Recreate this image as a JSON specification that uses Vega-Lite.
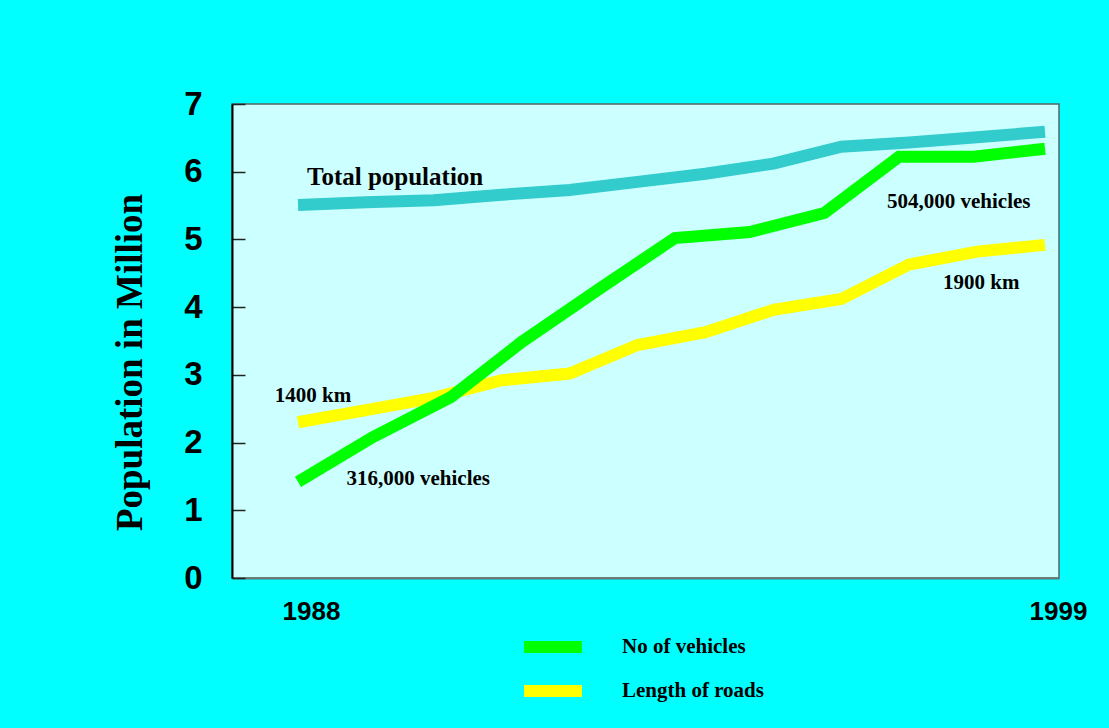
{
  "$schema": "https://vega.github.io/schema/vega-lite/v6.json",
  "width": 827,
  "height": 474,
  "autosize": {"type": "none"},
  "padding": {"left": 232, "top": 104, "right": 50, "bottom": 150},
  "background": "#00FFFF",
  "config": {
    "view": {"fill": "#CCFFFF", "stroke": "#556666", "strokeWidth": 1.5},
    "axis": {"grid": false}
  },
  "layer": [
    {
      "data": {
        "values": [
          {"series": "Total population", "year": 1988, "value": 5.51},
          {"series": "Total population", "year": 1989, "value": 5.55},
          {"series": "Total population", "year": 1990, "value": 5.58},
          {"series": "Total population", "year": 1991, "value": 5.66},
          {"series": "Total population", "year": 1992, "value": 5.73},
          {"series": "Total population", "year": 1993, "value": 5.85},
          {"series": "Total population", "year": 1994, "value": 5.97},
          {"series": "Total population", "year": 1995, "value": 6.12},
          {"series": "Total population", "year": 1996, "value": 6.37},
          {"series": "Total population", "year": 1997, "value": 6.43},
          {"series": "Total population", "year": 1998, "value": 6.51},
          {"series": "Total population", "year": 1999, "value": 6.59},
          {"series": "Length of roads", "year": 1988, "value": 2.30},
          {"series": "Length of roads", "year": 1989, "value": 2.48},
          {"series": "Length of roads", "year": 1990, "value": 2.66},
          {"series": "Length of roads", "year": 1991, "value": 2.92},
          {"series": "Length of roads", "year": 1992, "value": 3.02},
          {"series": "Length of roads", "year": 1993, "value": 3.44},
          {"series": "Length of roads", "year": 1994, "value": 3.63},
          {"series": "Length of roads", "year": 1995, "value": 3.96},
          {"series": "Length of roads", "year": 1996, "value": 4.12},
          {"series": "Length of roads", "year": 1997, "value": 4.63},
          {"series": "Length of roads", "year": 1998, "value": 4.82},
          {"series": "Length of roads", "year": 1999, "value": 4.92},
          {"series": "No of vehicles", "year": 1988, "value": 1.42},
          {"series": "No of vehicles", "year": 1989.1, "value": 2.08},
          {"series": "No of vehicles", "year": 1990.25, "value": 2.67},
          {"series": "No of vehicles", "year": 1991.3, "value": 3.49},
          {"series": "No of vehicles", "year": 1992.45, "value": 4.28},
          {"series": "No of vehicles", "year": 1993.55, "value": 5.02},
          {"series": "No of vehicles", "year": 1994.65, "value": 5.11},
          {"series": "No of vehicles", "year": 1995.75, "value": 5.39},
          {"series": "No of vehicles", "year": 1996.85, "value": 6.22},
          {"series": "No of vehicles", "year": 1997.95, "value": 6.22},
          {"series": "No of vehicles", "year": 1999, "value": 6.34}
        ]
      },
      "mark": {"type": "line", "strokeWidth": 12, "strokeCap": "butt", "strokeJoin": "miter"},
      "encoding": {
        "x": {
          "field": "year", "type": "quantitative",
          "scale": {"domain": [1987.028, 1999.206], "nice": false, "zero": false},
          "axis": {
            "title": null, "values": [1988, 1999], "format": "d",
            "tickSize": 0, "domainColor": "#667777", "domainWidth": 2,
            "labelFont": "Liberation Sans", "labelFontWeight": "bold", "labelFontSize": 26,
            "labelColor": "#000000", "labelPadding": 20, "labelFlush": false,
            "labelAlign": "left", "labelOffset": -16
          }
        },
        "y": {
          "field": "value", "type": "quantitative",
          "scale": {"domain": [0, 7], "nice": false},
          "axis": {
            "title": "Population in Million", "values": [0, 1, 2, 3, 4, 5, 6, 7], "format": "d",
            "tickSize": -13, "tickColor": "#222222", "tickWidth": 1.5,
            "domainColor": "#000000", "domainWidth": 2,
            "labelFont": "Liberation Sans", "labelFontWeight": "bold", "labelFontSize": 33,
            "labelColor": "#000000", "labelPadding": 43, "labelFlush": false,
            "titleFont": "Liberation Serif", "titleFontWeight": "bold", "titleFontSize": 37,
            "titleColor": "#000000", "titleX": -102, "titleY": 258,
            "titleAlign": "center", "titleBaseline": "middle", "titleAngle": -90
          }
        },
        "color": {
          "field": "series", "type": "nominal",
          "scale": {
            "domain": ["Total population", "Length of roads", "No of vehicles"],
            "range": ["#33CCCC", "#FFFF00", "#00FF00"]
          },
          "legend": {
            "values": ["No of vehicles", "Length of roads"],
            "title": null, "orient": "none", "legendX": 286, "legendY": 532,
            "symbolType": "stroke", "symbolSize": 3364, "symbolStrokeWidth": 12,
            "clipHeight": 22,
            "labelOffset": 34, "rowPadding": 22, "padding": 0,
            "labelFont": "Liberation Serif", "labelFontWeight": "bold", "labelFontSize": 21,
            "labelColor": "#000000", "labelLimit": 400
          }
        }
      }
    },
    {
      "data": {"values": [{"label": "Total population", "year": 1989.43, "value": 5.92}]},
      "mark": {"type": "text", "font": "Liberation Serif", "fontWeight": "bold", "fontSize": 25, "align": "center", "baseline": "middle", "color": "#000000"},
      "encoding": {
        "x": {"field": "year", "type": "quantitative"},
        "y": {"field": "value", "type": "quantitative"},
        "text": {"field": "label"}
      }
    },
    {
      "data": {
        "values": [
          {"label": "1400 km", "year": 1988.22, "value": 2.69},
          {"label": "316,000 vehicles", "year": 1989.77, "value": 1.46},
          {"label": "504,000 vehicles", "year": 1997.73, "value": 5.55},
          {"label": "1900 km", "year": 1998.06, "value": 4.36}
        ]
      },
      "mark": {"type": "text", "font": "Liberation Serif", "fontWeight": "bold", "fontSize": 21, "align": "center", "baseline": "middle", "color": "#000000"},
      "encoding": {
        "x": {"field": "year", "type": "quantitative"},
        "y": {"field": "value", "type": "quantitative"},
        "text": {"field": "label"}
      }
    }
  ]
}
